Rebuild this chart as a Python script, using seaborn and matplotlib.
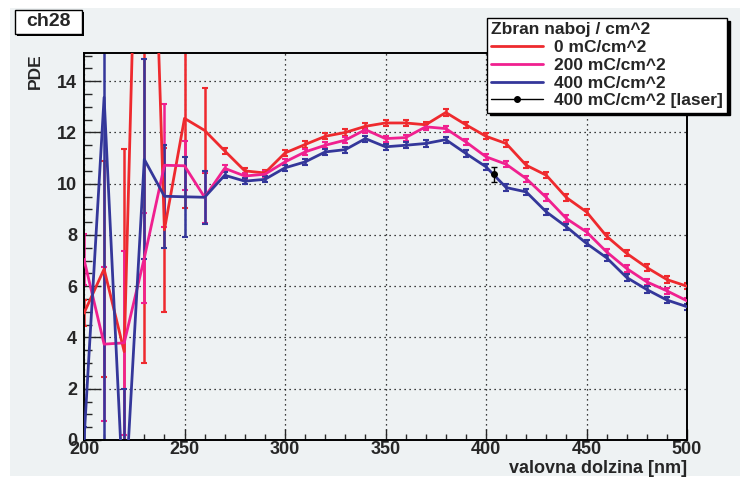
import pandas as pd
import seaborn as sns
import matplotlib.pyplot as plt
from matplotlib.lines import Line2D
from matplotlib.patches import Rectangle
from matplotlib.ticker import MultipleLocator

# wavelength scan, 10 nm steps
wavelength = list(range(200, 510, 10))

# PDE for the three integrated charges
pde_0 = [4.95, 6.67, 3.45, 33.0, 8.2, 12.55, 12.08, 11.28, 10.5, 10.42,
         11.2, 11.53, 11.85, 12.0, 12.24, 12.37, 12.37, 12.3, 12.78, 12.3,
         11.85, 11.57, 10.72, 10.33, 9.46, 8.9, 7.95, 7.28, 6.73, 6.26, 6.0]
pde_200 = [7.05, 3.74, 3.79, 7.1, 10.72, 10.7, 9.47, 10.6, 10.3, 10.37,
           10.85, 11.24, 11.5, 11.7, 12.11, 11.76, 11.8, 12.22, 12.15, 11.63,
           11.05, 10.76, 10.2, 9.46, 8.64, 8.12, 7.34, 6.69, 6.17, 5.82, 5.43]
pde_400 = [0.0, 13.37, -3.0, 10.95, 9.51, 9.49, 9.47, 10.33, 10.1, 10.17,
           10.62, 10.85, 11.24, 11.33, 11.76, 11.44, 11.5, 11.57, 11.72, 11.18,
           10.66, 9.85, 9.68, 8.9, 8.32, 7.67, 7.11, 6.34, 5.87, 5.46, 5.2]

small = [0.12] * 24
err_0 = [0.5, 4.2, 7.9, 30.0, 3.2, 3.5, 1.67] + small
err_200 = [1.0, 3.0, 3.6, 1.75, 2.4, 0.95, 1.0] + small
err_400 = [0.5, 14.0, 5.0, 3.9, 2.0, 1.55, 1.03] + small

# single laser measurement
laser_wl = [404]
laser_pde = [10.36]
laser_err = [0.3]

labels = ['0 mC/cm^2', '200 mC/cm^2', '400 mC/cm^2']
colors = ['#ee2a2e', '#f0208f', '#34379a']

df = pd.concat([
    pd.DataFrame({'wavelength': wavelength, 'pde': v, 'series': lab})
    for v, lab in zip([pde_0, pde_200, pde_400], labels)
])

sns.set_style("ticks")
plt.rcParams['font.family'] = ['Liberation Sans', 'DejaVu Sans']
plt.rcParams['font.weight'] = 'bold'
plt.rcParams['axes.labelweight'] = 'bold'

W, H = 748, 484
bg = '#eef2f3'
fig = plt.figure(figsize=(W / 100, H / 100), dpi=100, facecolor='white')
fig.patches.append(Rectangle((10 / W, 8 / H), 730 / W, 468 / H, transform=fig.transFigure,
                             facecolor=bg, edgecolor='none', zorder=-10))
ax = fig.add_axes([84 / W, 44 / H, 603 / W, 387 / H])
ax.set_facecolor(bg)

for vals, errs, col in zip([pde_0, pde_200, pde_400], [err_0, err_200, err_400], colors):
    ax.errorbar(wavelength, vals, yerr=errs, fmt='none', ecolor=col,
                elinewidth=1.8, capsize=2, capthick=1.5, zorder=2)

sns.lineplot(data=df, x='wavelength', y='pde', hue='series', hue_order=labels,
             palette=colors, estimator=None, sort=False, linewidth=2,
             legend=False, ax=ax, zorder=3)

ax.errorbar(laser_wl, laser_pde, yerr=laser_err, fmt='o', color='black', ms=4,
            elinewidth=1, capsize=2, zorder=5)

ax.set_xlim(200, 500)
ax.set_ylim(0, 15.1)
ax.set_xlabel('')
ax.set_ylabel('')
ax.xaxis.set_major_locator(MultipleLocator(50))
ax.xaxis.set_minor_locator(MultipleLocator(10))
ax.yaxis.set_major_locator(MultipleLocator(2))
ax.yaxis.set_minor_locator(MultipleLocator(0.5))
ax.tick_params(which='both', direction='in', top=False, right=False, labelsize=13, width=1)
ax.tick_params(axis='y', which='major', length=12, pad=5)
ax.tick_params(axis='y', which='minor', length=6)
ax.tick_params(axis='x', which='major', length=8, pad=1)
ax.tick_params(axis='x', which='minor', length=4)
ax.grid(which='major', color='black', linestyle=(0, (1, 3)), linewidth=0.9)
for s in ax.spines.values():
    s.set_visible(True)
    s.set_color('black')
    s.set_linewidth(1.4)

handles = [Line2D([], [], color=c, lw=2) for c in colors]
handles.append(Line2D([], [], color='black', lw=1, marker='o', ms=4))
leg = fig.legend(handles, labels + ['400 mC/cm^2 [laser]'], title='Zbran naboj / cm^2',
                 loc='upper left', bbox_to_anchor=(487 / W, 1 - 18 / H),
                 frameon=True, fancybox=False, shadow={'color': 'black', 'alpha': 1},
                 edgecolor='black', facecolor='white', framealpha=1,
                 prop={'weight': 'bold', 'size': 12.5},
                 title_fontproperties={'weight': 'bold', 'size': 12.5},
                 alignment='left', handlelength=3, labelspacing=0.15,
                 borderpad=0.25, handletextpad=0.6, borderaxespad=0)
leg.get_frame().set_linewidth(1)

# histogram title box
fig.patches.append(Rectangle((17 / W, 1 - 36 / H), 67 / W, 24 / H, transform=fig.transFigure,
                             facecolor='black', edgecolor='none', zorder=1))
fig.patches.append(Rectangle((15 / W, 1 - 34 / H), 67 / W, 24 / H, transform=fig.transFigure,
                             facecolor='white', edgecolor='black', lw=1, zorder=2))
fig.text(48 / W, 1 - 22 / H, 'ch28', ha='center', va='center', fontsize=14,
         fontweight='bold', zorder=3)

fig.text(35 / W, 1 - 53 / H, 'PDE', rotation=90, ha='center', va='top',
         fontsize=12.5, fontweight='bold')
fig.text(687 / W, 1 - 460 / H, 'valovna dolzina [nm]', ha='right', va='top',
         fontsize=13, fontweight='bold')

fig.savefig('out.png', dpi=100, facecolor='white')
